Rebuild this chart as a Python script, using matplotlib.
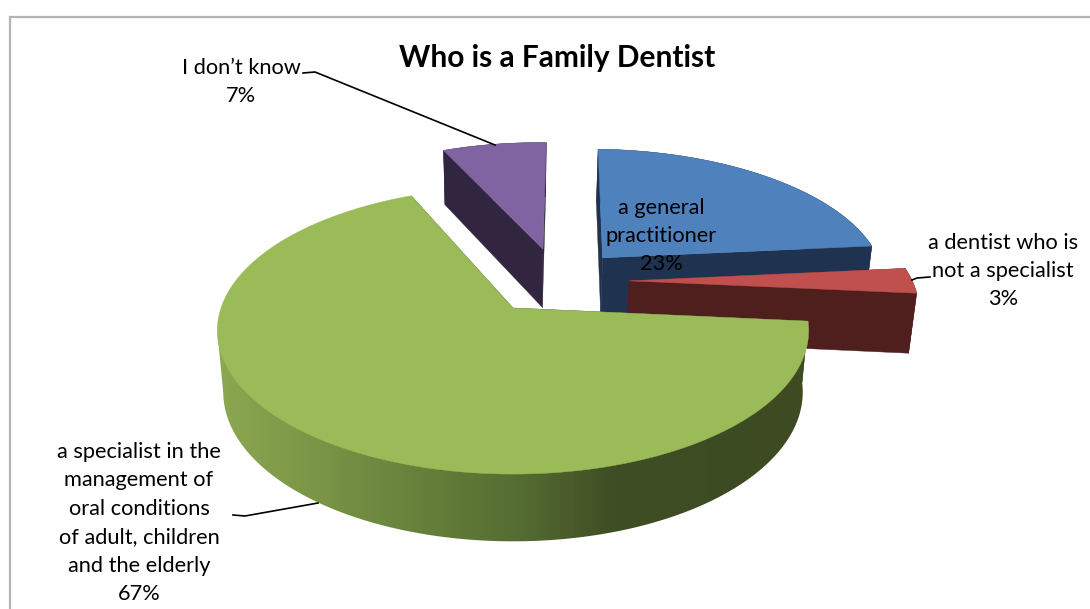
import matplotlib
matplotlib.use('Agg')
import matplotlib.pyplot as plt
import numpy as np
from matplotlib.colors import LinearSegmentedColormap
from matplotlib.patches import Polygon

plt.rcParams['font.family'] = ['Lato', 'DejaVu Sans']

title = 'Who is a Family Dentist'
labels = ['a general\npractitioner', 'a dentist who is\nnot a specialist',
          'a specialist in the\nmanagement of\noral conditions\nof adult, children\nand the elderly',
          'I don\u2019t know']
values = [23, 3, 67, 7]

top_colors = ['#4f81bd', '#c0504d', '#9bbb59', '#8064a2']
side_colors = ['#1f3350', '#4f1f1e', '#3d4a22', '#31253f']

# how far each slice is pulled out, in pie radii (x, y)
explode = [(0.325, 0.38), (0.41, 0.20), (0.0, 0.0), (0.11, 0.45)]
start_angle = 88.3

# projection of the pie plane to the canvas
cx, cy = 513, 308
ax_x, ax_y = 292, 140
persp = 0.157
depth = 60.6

green_wall = LinearSegmentedColormap.from_list(
    'wall', [(0, '#8ca850'), (0.24, '#728d42'), (0.5, '#566e32'),
             (0.67, '#3f4e24'), (1, '#3d4a22')])


def project(x, y):
    s = 1 / (1 + persp * y)
    return ax_x * x * s, -ax_y * y * s


def top_pts(x, y):
    dx, dy = project(x, y)
    return np.column_stack([cx + dx, cy + dy])


def bottom_pts(x, y):
    dx, dy = project(x, y)
    return np.column_stack([cx + 0.98 * dx, cy + depth + 1.04 * dy])


fig = plt.figure(figsize=(10.9, 6.09), dpi=100)
ax = fig.add_axes([0, 0, 1, 1])
ax.axis('off')

# chart frame
ax.plot([10, 10, 1090], [609, 17, 17], color='#b4b4b4', lw=1.6, solid_joinstyle='miter')

# slice angles, clockwise from the start angle
fracs = np.array(values) / sum(values)
ends = start_angle - np.cumsum(fracs) * 360
starts = np.r_[start_angle, ends[:-1]]

# back slices first, the big one goes on top
for i in [3, 0, 1, 2]:
    t = np.radians(np.linspace(starts[i], ends[i], 300))
    ex, ey = explode[i]
    x = np.r_[ex, ex + np.cos(t)]
    y = np.r_[ey, ey + np.sin(t)]
    top = top_pts(x, y)
    bot = bottom_pts(x, y)

    # cut walls
    for j in [1, -1]:
        wall = np.vstack([top[0], top[j], bot[j], bot[0]])
        ax.add_patch(Polygon(wall, fc=side_colors[i], ec=side_colors[i], lw=0.3))

    # outer wall, the big slice gets a gradient clipped to its front part
    if i == 2:
        left_top = np.argmin(top[:, 0])
        left_bot = np.argmin(bot[:, 0])
        outer = np.vstack([top[1], bot[1:left_bot + 1], top[left_top]])
        wall = Polygon(outer, fc='none', ec='none')
        ax.add_patch(wall)
        grad = np.linspace(0, 1, 400).reshape(1, -1)
        im = ax.imshow(grad, cmap=green_wall, extent=(217, 808, 560, 300), aspect='auto')
        im.set_clip_path(wall)
    else:
        outer = np.vstack([top[1:], bot[1:][::-1]])
        ax.add_patch(Polygon(outer, fc=side_colors[i], ec=side_colors[i], lw=0.3))

    ax.add_patch(Polygon(top, fc=top_colors[i], ec=top_colors[i], lw=0.3))

# leader lines
ax.plot([303, 315, 495], [73, 72, 145], color='black', lw=1.2)
ax.plot([912, 917, 930], [280, 278, 277], color='black', lw=1.2)
ax.plot([233, 245, 318], [515, 516, 503], color='black', lw=1.2)

ax.text(557, 58, title, fontsize=21.5, fontweight='bold', ha='center', va='center', color='black')

# label centres and the percentage under each one
label_pos = [(661, 236), (1003, 271), (139, 523), (241, 82)]
for name, v, (lx, ly) in zip(labels, values, label_pos):
    ax.text(lx, ly, f'{name}\n{v}%', fontsize=15.7, ha='center', va='center',
            color='black', linespacing=1.53)

ax.set_xlim(0, 1090)
ax.set_ylim(609, 0)

fig.savefig('out.png', dpi=100)
